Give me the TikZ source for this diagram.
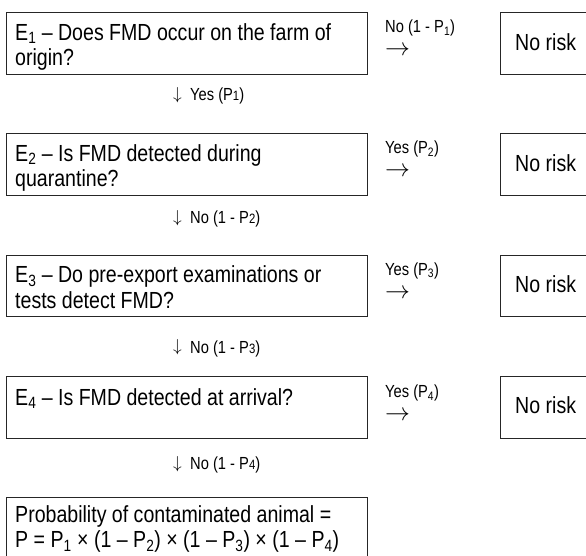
\documentclass[tikz,border=0pt]{standalone}
\usepackage{fontspec}
\setmainfont{Liberation Sans}[FakeStretch=0.84]
\newcommand{\mysub}[1]{\textsubscript{#1}}
\newcommand{\smalldigit}[1]{{\fontsize{13.5}{13.5}\selectfont #1}}
\tikzset{
  qbox/.style={draw=black!85, line width=0.9pt, anchor=north west, inner sep=0pt,
               minimum width=361pt, minimum height=61.5pt},
  riskbox/.style={qbox, minimum width=120pt},
  bigtext/.style={anchor=base west, inner sep=0pt, align=left,
                  font=\fontsize{23.3}{25.5}\selectfont},
  smalltext/.style={anchor=base west, inner sep=0pt,
                    font=\fontsize{17.5}{20}\selectfont},
  rarrow/.style={anchor=west, inner sep=0pt, font=\fontsize{24}{24}\selectfont},
  darrow/.style={anchor=center, inner sep=0pt, font=\fontsize{18}{18}\selectfont},
}
\begin{document}
\begin{tikzpicture}[x=1pt,y=-1pt]
\useasboundingbox (0,0) rectangle (586,555);
\clip (0,0) rectangle (586,555);

% question boxes
\node[qbox] (b1) at (6,12) {};
\node[qbox] (b2) at (6,133) {};
\node[qbox] (b3) at (6,254.5) {};
\node[qbox] (b4) at (6,376) {};
\node[qbox, minimum height=80pt] (b5) at (6,497) {};

% no risk boxes
\node[riskbox] (r1) at (500,12) {};
\node[riskbox] (r2) at (500,133) {};
\node[riskbox] (r3) at (500,254.5) {};
\node[riskbox] (r4) at (500,376) {};

% box texts (base = baseline of last line)
\node[bigtext] (t1) at (15,65.5) {E\mysub{1} – Does FMD occur on the farm of\\origin?};
\node[bigtext] (t2) at (15,186.5) {E\mysub{2} – Is FMD detected during\\quarantine?};
\node[bigtext] (t3) at (15,308) {E\mysub{3} – Do pre-export examinations or\\tests detect FMD?};
\node[bigtext] (t4) at (15,405) {E\mysub{4} – Is FMD detected at arrival?};
\node[bigtext] (t5) at (15,547.5) {Probability of contaminated animal =\\P = P\mysub{1} × (1 – P\mysub{2}) × (1 – P\mysub{3}) × (1 – P\mysub{4})};

\node[bigtext] (n1) at (515,50) {No risk};
\node[bigtext] (n2) at (515,171) {No risk};
\node[bigtext] (n3) at (515,292.5) {No risk};
\node[bigtext] (n4) at (515,413) {No risk};

% side labels and arrows
\node[smalltext] (s1) at (385,32.7) {No (1 - P\mysub{1})};
\node[smalltext] (s2) at (385,153.7) {Yes (P\mysub{2})};
\node[smalltext] (s3) at (385,275.2) {Yes (P\mysub{3})};
\node[smalltext] (s4) at (385,397.5) {Yes (P\mysub{4})};
\node[rarrow] (a1) at (385,51) {$\rightarrow$};
\node[rarrow] (a2) at (385,172) {$\rightarrow$};
\node[rarrow] (a3) at (385,293.5) {$\rightarrow$};
\node[rarrow] (a4) at (385,415.5) {$\rightarrow$};

% downward labels and arrows
\node[darrow] (d1) at (177.5,95) {$\downarrow$};
\node[darrow] (d2) at (177.5,217.7) {$\downarrow$};
\node[darrow] (d3) at (177.5,347.5) {$\downarrow$};
\node[darrow] (d4) at (177.5,464) {$\downarrow$};
\node[smalltext] (y1) at (190,100.5) {Yes (P\smalldigit{1})};
\node[smalltext] (y2) at (190,223) {No (1 - P\smalldigit{2})};
\node[smalltext] (y3) at (190,353) {No (1 - P\smalldigit{3})};
\node[smalltext] (y4) at (190,469.5) {No (1 - P\smalldigit{4})};
\end{tikzpicture}
\end{document}
